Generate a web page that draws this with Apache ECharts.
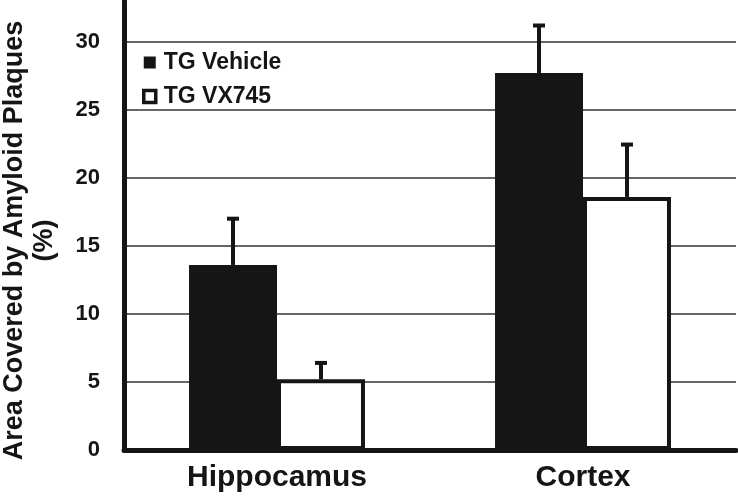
<!DOCTYPE html>
<html>
<head>
<meta charset="utf-8">
<script src="https://cdn.jsdelivr.net/npm/echarts@6/dist/echarts.min.js"></script>
<style>
  html, body { margin: 0; padding: 0; background: #fff; }
  #echarts { width: 738px; height: 496px; }
</style>
</head>
<body>
<div id="echarts"></div>
<script>
var categories = ['Hippocamus', 'Cortex'];
var vehicle = [13.6, 27.7];
var vehicleErr = [3.4, 3.5];
var vx745 = [5.2, 18.6];
var vx745Err = [1.2, 3.85];
var yTicks = [0, 5, 10, 15, 20, 25, 30];

var ink = '#151515';
var font = '"Liberation Sans", Arial, sans-serif';
var gapPct = 42.5;

// error bar drawn on top of a bar, side -1 = left bar, +1 = right bar
function errorBar(side) {
    return function (params, api) {
        var cat = api.value(0);
        var top = api.coord([cat, api.value(1)]);
        var hi = api.coord([cat, api.value(2)]);
        var band = api.size([1, 0])[0];
        var bw = band * (1 - gapPct / 100) / 2;
        var x = top[0] + side * bw / 2;
        var style = { stroke: ink, lineWidth: 4 };
        return {
            type: 'group',
            children: [
                { type: 'line', shape: { x1: x, y1: top[1], x2: x, y2: hi[1] }, style: style },
                { type: 'line', shape: { x1: x - 6, y1: hi[1], x2: x + 6, y2: hi[1] }, style: style }
            ]
        };
    };
}

function errData(vals, errs) {
    return vals.map(function (v, i) { return [i, v, v + errs[i]]; });
}

var myChart = echarts.init(document.getElementById('echarts'));
var option = {
    animation: false,
    backgroundColor: '#fff',
    grid: { left: 124, right: 2, top: 1, bottom: 46, outerBoundsMode: 'none', containLabel: false },
    legend: {
        orient: 'vertical',
        left: 137,
        top: 45,
        itemWidth: 12,
        itemHeight: 12,
        itemGap: 9,
        icon: 'rect',
        textStyle: { fontFamily: font, fontWeight: 'bold', fontSize: 23, color: ink, lineHeight: 25, padding: [0, 0, 0, 3] },
        data: [
            { name: 'TG Vehicle', itemStyle: { color: ink, borderWidth: 0 } },
            { name: 'TG VX745', itemStyle: { color: '#fff', borderColor: ink, borderWidth: 3.5 } }
        ]
    },
    xAxis: {
        type: 'category',
        data: categories,
        axisLine: { lineStyle: { color: ink, width: 5 } },
        axisTick: { show: false },
        axisLabel: { fontFamily: font, fontWeight: 'bold', fontSize: 30, color: ink, margin: 13 }
    },
    yAxis: {
        type: 'value',
        min: 0,
        max: 33,
        interval: 5,
        name: 'Area Covered by Amyloid Plaques\n(%)',
        nameLocation: 'middle',
        nameRotate: 90,
        nameGap: 64,
        nameTextStyle: { fontFamily: font, fontWeight: 'bold', fontSize: 27, color: ink, lineHeight: 30, padding: [0, 30, 0, 0] },
        axisLine: { show: true, lineStyle: { color: ink, width: 5 } },
        axisTick: { show: false },
        axisLabel: {
            fontFamily: font, fontWeight: 'bold', fontSize: 22, color: ink, margin: 24,
            showMaxLabel: false,
            formatter: function (v) { return yTicks.indexOf(v) >= 0 ? String(v) : ''; }
        },
        splitLine: { show: true, showMaxLine: false, lineStyle: { color: '#333', width: 1.5 } }
    },
    series: [
        {
            name: 'TG Vehicle',
            type: 'bar',
            data: vehicle,
            barGap: '0%',
            barCategoryGap: gapPct + '%',
            itemStyle: { color: ink }
        },
        {
            name: 'TG VX745',
            type: 'bar',
            data: vx745,
            itemStyle: { color: '#fff', borderColor: ink, borderWidth: 4 }
        },
        {
            type: 'custom',
            renderItem: errorBar(-1),
            data: errData(vehicle, vehicleErr),
            z: 5
        },
        {
            type: 'custom',
            renderItem: errorBar(1),
            data: errData(vx745, vx745Err),
            z: 5
        }
    ]
};
myChart.setOption(option);
</script>
</body>
</html>
